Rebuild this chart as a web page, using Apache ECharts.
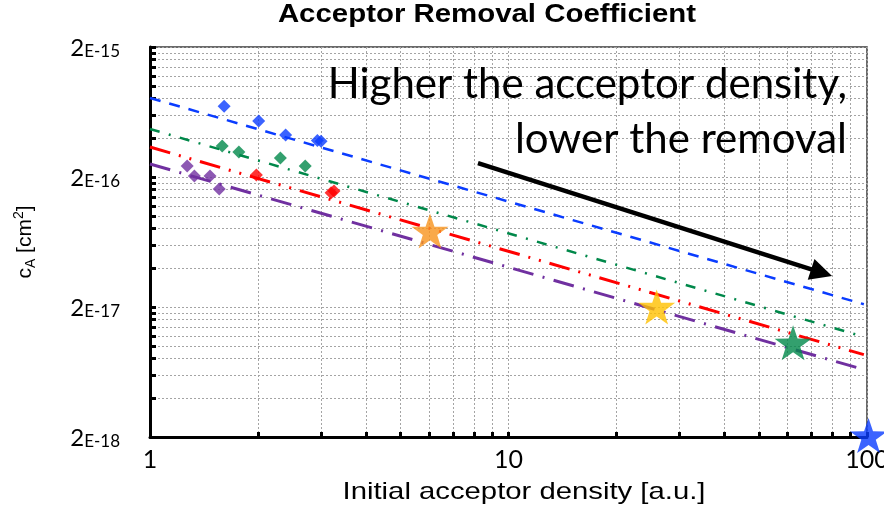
<!DOCTYPE html>
<html>
<head>
<meta charset="utf-8">
<script src="https://cdn.jsdelivr.net/npm/echarts@6/dist/echarts.min.js"></script>
<style>
  html, body { margin: 0; padding: 0; background: #ffffff; }
  #chart { width: 884px; height: 506px; }
</style>
</head>
<body>
<div id="chart"></div>
<script>
// Measured removal coefficients: [initial acceptor density (a.u.), c_A (cm^2)]
const blueDiamonds   = [[1.61, 7.0e-16], [2.01, 5.4e-16], [2.39, 4.2e-16], [2.93, 3.82e-16], [3.0, 3.76e-16]];
const greenDiamonds  = [[1.59, 3.46e-16], [1.77, 3.11e-16], [2.31, 2.8e-16], [2.71, 2.43e-16]];
const redDiamonds    = [[1.98, 2.07e-16], [3.2, 1.51e-16], [3.26, 1.56e-16]];
const purpleDiamonds = [[1.27, 2.43e-16], [1.33, 2.04e-16], [1.47, 2.04e-16], [1.56, 1.62e-16]];

// Single high-density points
const orangeStar = [[6.04, 7.7e-17]];
const yellowStar = [[25.9, 2.0e-17]];
const greenStar  = [[62.2, 1.06e-17]];
const blueStar   = [[101, 2.05e-18]];

// Power-law trend lines (end points)
const blueFit   = [[1, 8.11e-16], [98, 2.10e-17]];
const greenFit  = [[1, 4.68e-16], [98, 1.18e-17]];
const redFit    = [[1, 3.40e-16], [98, 8.6e-18]];
const purpleFit = [[1, 2.52e-16], [98, 6.6e-18]];

// Trend arrow (start, end)
const trendArrow = [[8.22, 2.56e-16], [74.7, 3.67e-17]];

// Axis ticks
const xTickLabels = [1, 10, 100];
const yTickLabels = [2e-18, 2e-17, 2e-16, 2e-15];

const Y_BASE = 2e-18;
const round9 = v => Math.round(v * 1e9) / 1e9;
const lx = v => round9(Math.log10(v));
const ly = v => round9(Math.log10(v / Y_BASE));
const toXY = arr => arr.map(p => [lx(p[0]), ly(p[1])]);

// log-scale minor positions: k * decade, k = 1..9
const xMinor = [];
[1, 10].forEach(d => { for (let k = 1; k <= 9; k++) xMinor.push(lx(k * d)); });
xMinor.push(lx(100));
const yMinor = [];
[2e-18, 2e-17, 2e-16].forEach(d => { for (let k = 1; k <= 9; k++) yMinor.push(ly(k * d)); });
yMinor.push(ly(2e-15));

// five-point star outline for the star markers
function starPath() {
  const R = 10, r = 3.9, pts = [];
  for (let i = 0; i < 10; i++) {
    const rad = (i % 2 === 0) ? R : r;
    const a = -Math.PI / 2 + i * Math.PI / 5;
    pts.push((rad * Math.cos(a)).toFixed(3) + ' ' + (rad * Math.sin(a)).toFixed(3));
  }
  return 'path://M' + pts.join(' L') + ' Z';
}
const STAR = starPath();

const gridColor = '#A4A4A4';
const bodyFont = 'Lato';

const chart = echarts.init(document.getElementById('chart'), null, { renderer: 'canvas' });

function diamondSeries(name, data, color) {
  return {
    name, type: 'scatter', data: toXY(data), symbol: 'diamond', symbolSize: 13,
    itemStyle: { color }, z: 5, silent: true
  };
}
function starSeries(name, data, color) {
  return {
    name, type: 'scatter', data: toXY(data), symbol: STAR, symbolSize: [37, 35],
    itemStyle: { color }, z: 6, clip: false, silent: true
  };
}
function fitSeries(name, data, color, dash, width) {
  return {
    name, type: 'line', data: toXY(data), symbol: 'none', z: 3, silent: true,
    lineStyle: { color, width, type: dash, cap: 'butt' }
  };
}
function label(text, x, y, font, scaleX, align) {
  return {
    type: 'text', x, y, scaleX, z: 10, silent: true,
    style: { text, font, fill: '#000', align: align || 'center', verticalAlign: 'middle' }
  };
}

chart.setOption({
  animation: false,
  backgroundColor: '#ffffff',
  grid: {
    left: 150, right: 17, top: 47, bottom: 69,
    show: true, borderColor: '#3a3a3a', borderWidth: 1.5,
    outerBoundsMode: 'none'
  },
  xAxis: {
    type: 'value', min: 0, max: 2,
    axisLine: { show: true, onZero: false, lineStyle: { color: '#000', width: 3 } },
    axisTick: { show: true, inside: true, length: 5, customValues: xMinor, lineStyle: { color: '#000', width: 3 } },
    axisLabel: {
      customValues: xTickLabels.map(lx), margin: 10,
      formatter: v => String(Math.round(Math.pow(10, v))),
      fontFamily: bodyFont, fontSize: 25, color: '#000'
    },
    splitLine: { show: true, lineStyle: { color: gridColor, width: 1, type: [2, 2] } }
  },
  yAxis: {
    type: 'value', min: 0, max: 3,
    name: '{i|c}{s|A}{i| [cm}{p|2}{i|]}', nameLocation: 'middle', nameGap: 112, nameRotate: 90,
    nameTextStyle: {
      fontFamily: 'Liberation Sans', fontSize: 21, color: '#000',
      rich: {
        i: { fontFamily: 'Liberation Sans', fontSize: 21, lineHeight: 26, color: '#000' },
        s: { fontFamily: 'Liberation Sans', fontSize: 14, lineHeight: 14, verticalAlign: 'bottom', color: '#000' },
        p: { fontFamily: 'Liberation Sans', fontSize: 14, lineHeight: 14, verticalAlign: 'top', color: '#000' }
      }
    },
    axisLine: { show: true, onZero: false, lineStyle: { color: '#000', width: 3 } },
    axisTick: { show: true, inside: true, length: 6, customValues: yMinor, lineStyle: { color: '#000', width: 3 } },
    axisLabel: {
      customValues: yTickLabels.map(ly), margin: 30,
      formatter: v => '{a|2}{b|E-' + (18 - Math.round(v)) + '}',
      rich: {
        a: { fontFamily: bodyFont, fontSize: 24, lineHeight: 26, verticalAlign: 'bottom', color: '#000' },
        b: { fontFamily: bodyFont, fontSize: 17, lineHeight: 22, verticalAlign: 'bottom', color: '#000' }
      }
    },
    splitLine: { show: true, lineStyle: { color: gridColor, width: 1, type: [2, 2] } }
  },
  graphic: [
    label('Acceptor Removal Coefficient', 487, 15, 'bold 25px "Liberation Sans"', 1.176),
    label('Initial acceptor density [a.u.]', 524, 492, '24px "Liberation Sans"', 1.22),
    label('Higher the acceptor density,', 847, 84, '42px ' + bodyFont, 1, 'right'),
    label('lower the removal', 847, 139, '42px ' + bodyFont, 1, 'right')
  ],
  series: [
    fitSeries('blue fit', blueFit, '#0A3CFF', [11, 9], 2.5),
    fitSeries('green fit', greenFit, '#00884A', [10, 9.5, 2, 9.5], 2.5),
    fitSeries('red fit', redFit, '#FF0000', [21, 9, 2, 9, 2, 9], 3),
    fitSeries('purple fit', purpleFit, '#7030A0', [21, 9.5, 2, 9.5], 3),
    {
      name: 'trend', type: 'line', data: [], silent: true, z: 8,
      markLine: {
        silent: true, animation: false,
        symbol: ['none', 'triangle'], symbolSize: 22,
        label: { show: false },
        lineStyle: { color: '#000', width: 4.5, type: 'solid' },
        data: [[{ coord: toXY(trendArrow)[0] }, { coord: toXY(trendArrow)[1] }]]
      }
    },
    diamondSeries('blue', blueDiamonds, '#0A3CFF'),
    diamondSeries('green', greenDiamonds, '#00884A'),
    diamondSeries('red', redDiamonds, '#FF0000'),
    diamondSeries('purple', purpleDiamonds, '#7030A0'),
    starSeries('orange star', orangeStar, '#F7941D'),
    starSeries('yellow star', yellowStar, '#FFC000'),
    starSeries('green star', greenStar, '#00884A'),
    starSeries('blue star', blueStar, '#0A3CFF')
  ]
});
</script>
</body>
</html>
